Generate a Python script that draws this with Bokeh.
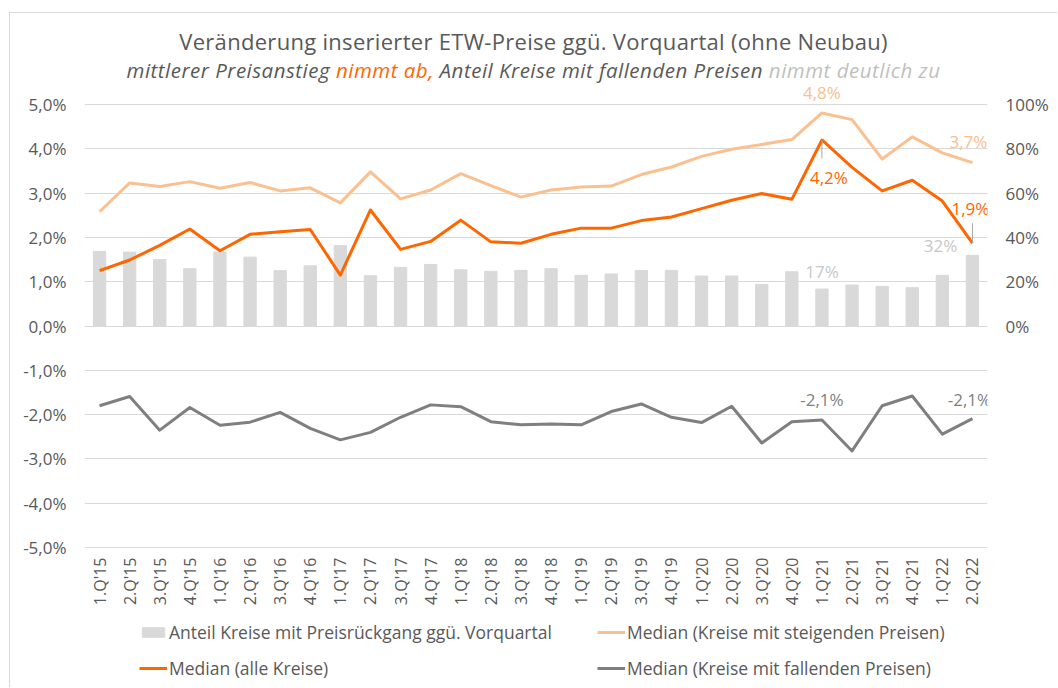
import math
from bokeh.plotting import figure
from bokeh.models import (FactorRange, Range1d, LinearAxis, FixedTicker,
                          Legend, LegendItem, LabelSet, ColumnDataSource, Div)
from bokeh.layouts import column
from bokeh.core.properties import value
from bokeh.embed import file_html
from bokeh.resources import INLINE

# ---------------- data ----------------
quarters = ["1.Q'15", "2.Q'15", "3.Q'15", "4.Q'15",
            "1.Q'16", "2.Q'16", "3.Q'16", "4.Q'16",
            "1.Q'17", "2.Q'17", "3.Q'17", "4.Q'17",
            "1.Q'18", "2.Q'18", "3.Q'18", "4.Q'18",
            "1.Q'19", "2.Q'19", "3.Q'19", "4.Q'19",
            "1.Q'20", "2.Q'20", "3.Q'20", "4.Q'20",
            "1.Q'21", "2.Q'21", "3.Q'21", "4.Q'21",
            "1.Q'22", "2.Q'22"]

# share of districts with falling prices (right axis, %)
anteil_rueckgang = [33.7, 33.4, 30.0, 25.9, 33.4, 31.1, 25.0, 27.2, 36.3, 22.7,
                    26.5, 27.8, 25.4, 24.7, 25.1, 25.9, 22.9, 23.5, 25.0, 25.1,
                    22.6, 22.6, 18.8, 24.5, 16.7, 18.5, 17.9, 17.3, 22.9, 31.9]

# medians (left axis, %)
median_steigend = [2.58, 3.23, 3.15, 3.26, 3.11, 3.24, 3.05, 3.12, 2.78, 3.48,
                   2.87, 3.07, 3.44, 3.17, 2.91, 3.07, 3.14, 3.16, 3.42, 3.59,
                   3.83, 3.99, 4.10, 4.21, 4.81, 4.66, 3.77, 4.27, 3.91, 3.69]
median_alle = [1.25, 1.49, 1.82, 2.19, 1.70, 2.07, 2.13, 2.18, 1.15, 2.62,
               1.73, 1.91, 2.39, 1.90, 1.87, 2.07, 2.21, 2.21, 2.38, 2.46,
               2.65, 2.84, 2.99, 2.86, 4.20, 3.58, 3.05, 3.29, 2.82, 1.87]
median_fallend = [-1.80, -1.59, -2.35, -1.84, -2.24, -2.17, -1.95, -2.31, -2.57, -2.40,
                  -2.06, -1.78, -1.82, -2.16, -2.23, -2.21, -2.23, -1.93, -1.76, -2.06,
                  -2.18, -1.81, -2.64, -2.16, -2.12, -2.82, -1.80, -1.58, -2.44, -2.09]

left_ticks = [-5, -4, -3, -2, -1, 0, 1, 2, 3, 4, 5]
left_tick_labels = ["-5,0%", "-4,0%", "-3,0%", "-2,0%", "-1,0%", "0,0%",
                    "1,0%", "2,0%", "3,0%", "4,0%", "5,0%"]
right_ticks = [0, 20, 40, 60, 80, 100]
right_tick_labels = ["0%", "20%", "40%", "60%", "80%", "100%"]

series_names = ["Anteil Kreise mit Preisrückgang ggü. Vorquartal",
                "Median (Kreise mit steigenden Preisen)",
                "Median (alle Kreise)",
                "Median (Kreise mit fallenden Preisen)"]

title_text = "Veränderung inserierter ETW-Preise ggü. Vorquartal (ohne Neubau)"
subtitle_parts = ["mittlerer Preisanstieg ", "nimmt ab,",
                  " Anteil Kreise mit fallenden Preisen ", "nimmt deutlich zu"]

# ---------------- styles ----------------
FONT = "Open Sans"
TXT = "#595959"
C_BAR = "#D9D9D9"
C_UP = "#FAC090"
C_ALL = "#FF6600"
C_DOWN = "#7F7F7F"
C_BARLBL = "#C8C8C8"
C_BORDER = "#D9D9D9"
Y_TOP = 5.52      # head-room above 5 % for the peak label
Y_BOT = -8.16     # room below -5 % for category labels and legend
AXIS_AT = -5      # category axis sits on the -5 % line


def pct(v, dec=1):
    return (f"{v:.{dec}f}".replace(".", ",")) + "%"


p = figure(x_range=FactorRange(*quarters, range_padding=0),
           y_range=Range1d(Y_BOT, Y_TOP),
           width=1047, height=606,
           output_backend="svg", toolbar_location=None,
           min_border_left=74, min_border_right=70,
           min_border_top=0, min_border_bottom=0)
p.extra_y_ranges = {"right": Range1d(Y_BOT * 20, Y_TOP * 20)}
p.outline_line_color = None
p.background_fill_alpha = 0
p.border_fill_alpha = 0

p.xgrid.grid_line_color = None
p.ygrid.ticker = FixedTicker(ticks=left_ticks)
p.ygrid.grid_line_color = "#D9D9D9"
p.ygrid.grid_line_width = 1

# left axis
ya = p.yaxis[0]
ya.ticker = FixedTicker(ticks=left_ticks)
ya.major_label_overrides = {t: l for t, l in zip(left_ticks, left_tick_labels)}
# right axis
ra = LinearAxis(y_range_name="right", ticker=FixedTicker(ticks=right_ticks))
ra.major_label_overrides = {t: l for t, l in zip(right_ticks, right_tick_labels)}
p.add_layout(ra, "right")

for ax in (ya, ra):
    ax.axis_line_color = None
    ax.major_tick_line_color = None
    ax.minor_tick_line_color = None
    ax.major_tick_out = 0
    ax.major_tick_in = 0
    ax.minor_tick_out = 0
    ax.major_label_text_font = FONT
    ax.major_label_text_font_size = "17px"
    ax.major_label_text_color = TXT
    ax.major_label_standoff = 18

xa = p.xaxis[0]
xa.fixed_location = AXIS_AT
xa.axis_line_color = None
xa.major_tick_line_color = None
xa.major_tick_out = 0
xa.major_tick_in = 0
xa.major_label_orientation = math.pi / 2
xa.major_label_text_font = FONT
xa.major_label_text_font_size = "16px"
xa.major_label_text_color = TXT
xa.major_label_standoff = 10

# ---------------- glyphs ----------------
r_bar = p.vbar(x=quarters, top=anteil_rueckgang, width=0.41, color=C_BAR,
               y_range_name="right")
r_up = p.line(x=quarters, y=median_steigend, line_width=3, color=C_UP,
              line_join="round")
r_all = p.line(x=quarters, y=median_alle, line_width=3, color=C_ALL,
               line_join="round")
r_down = p.line(x=quarters, y=median_fallend, line_width=3, color=C_DOWN,
                line_join="round")

# leader lines
i_peak, i_last = 24, 29
p.segment(x0=[quarters[i_peak]], y0=[median_alle[i_peak]],
          x1=[quarters[i_peak]], y1=[median_alle[i_peak] - 0.42],
          line_color="#A6A6A6", line_width=1)
p.segment(x0=[quarters[i_last]], y0=[median_alle[i_last]],
          x1=[quarters[i_last]], y1=[median_alle[i_last] + 0.45],
          line_color="#A6A6A6", line_width=1)


def add_label(i, vals, color, xo, yo, rng="default", dec=1):
    src = ColumnDataSource(dict(x=[quarters[i]], y=[vals[i]],
                                t=[pct(vals[i], dec)]))
    kw = dict(x="x", y="y", text="t", source=src,
              x_offset=xo, y_offset=yo, text_align="center",
              text_baseline="middle", text_font_size="17px",
              text_font=value(FONT), text_color=color)
    if rng != "default":
        kw["y_range_name"] = rng
    p.add_layout(LabelSet(**kw))


add_label(i_peak, median_steigend, C_UP, 0, 20)
add_label(i_last, median_steigend, C_UP, -4, 21)
add_label(i_peak, median_alle, C_ALL, 7, -38)
add_label(i_last, median_alle, C_ALL, -2, 35)
add_label(i_peak, median_fallend, C_DOWN, 0, 20)
add_label(i_last, median_fallend, C_DOWN, -3, 19)
add_label(i_peak, anteil_rueckgang, C_BARLBL, 0, 18, rng="right", dec=0)
add_label(i_last, anteil_rueckgang, C_BARLBL, -32, 10, rng="right", dec=0)

# ---------------- legend ----------------
legend = Legend(items=[LegendItem(label=series_names[0], renderers=[r_bar]),
                       LegendItem(label=series_names[1], renderers=[r_up]),
                       LegendItem(label=series_names[2], renderers=[r_all]),
                       LegendItem(label=series_names[3], renderers=[r_down])],
                location=(55, 7), orientation="horizontal", ncols=2,
                glyph_width=28, glyph_height=12, label_standoff=2,
                label_width=416, label_height=20, spacing=12,
                padding=0, margin=0, border_line_color=None,
                background_fill_alpha=0,
                label_text_font=FONT, label_text_font_size="17.5px",
                label_text_color=TXT)
p.add_layout(legend)

# ---------------- title ----------------
html = (
    f'<div style="width:1038px;padding-left:9px;text-align:center;'
    f'font-family:\'{FONT}\',sans-serif;color:{TXT};">'
    f'<div style="font-size:22px;line-height:30px;margin-top:13px;'
    f'letter-spacing:0.3px;white-space:nowrap;">{title_text}</div>'
    f'<div style="font-size:20.5px;line-height:28px;font-style:italic;'
    f'letter-spacing:0.5px;white-space:nowrap;">'
    f'{subtitle_parts[0]}<span style="color:{C_ALL};">{subtitle_parts[1]}</span>'
    f'{subtitle_parts[2]}<span style="color:#BFBFBF;">{subtitle_parts[3]}</span></div>'
    f'</div>'
)
div = Div(text=html, width=1047, height=68, margin=0)

layout = column(div, p, margin=(12, 0, 0, 9),
                styles={"border-top": f"1px solid {C_BORDER}",
                        "border-left": f"1px solid {C_BORDER}",
                        "background-color": "white"})
open("out.html", "w").write(file_html(layout, INLINE))
